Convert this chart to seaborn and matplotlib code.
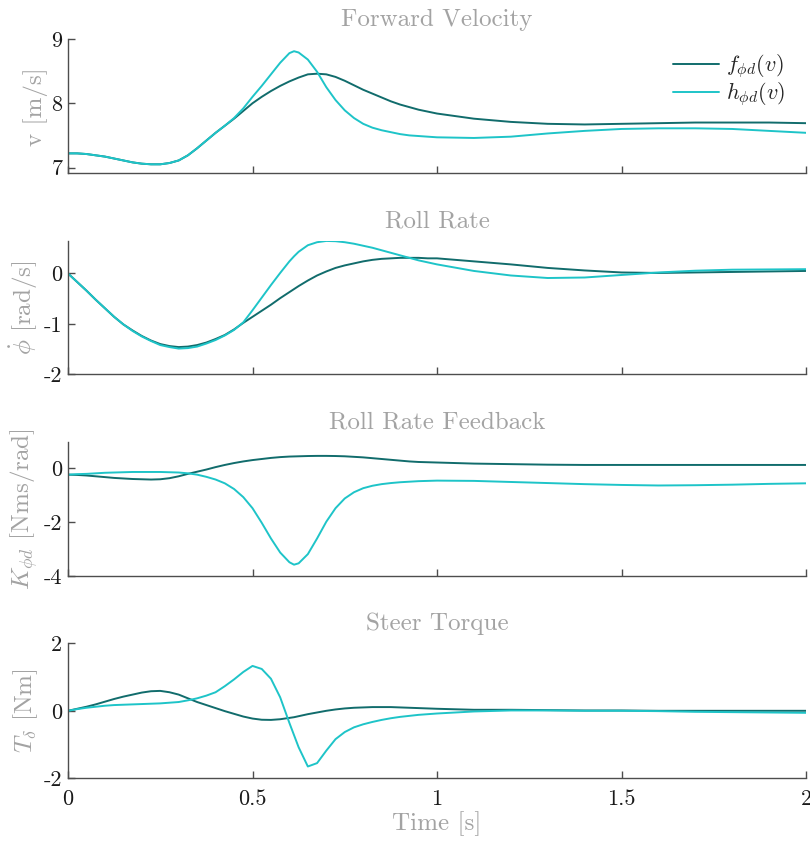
import matplotlib
matplotlib.use('Agg')
import matplotlib.pyplot as plt
import seaborn as sns
from matplotlib.ticker import FuncFormatter, FixedLocator

# ---------------- data ----------------
time_s = [0, 0.025, 0.05, 0.075, 0.1, 0.125, 0.15, 0.175, 0.2,
          0.225, 0.25, 0.275, 0.3, 0.325, 0.35, 0.375, 0.4,
          0.425, 0.45, 0.475, 0.5, 0.525, 0.55, 0.575, 0.6,
          0.6125,
          0.625, 0.65, 0.675, 0.7, 0.725, 0.75, 0.775, 0.8,
          0.825, 0.85, 0.875, 0.9, 0.925, 0.95, 0.975, 1.0,
          1.1, 1.2, 1.3, 1.4, 1.5, 1.6, 1.7, 1.8, 1.9, 2.0]

v_f = [7.22, 7.22, 7.21, 7.19, 7.17, 7.14, 7.11, 7.08, 7.06,
       7.05, 7.05, 7.07, 7.11, 7.19, 7.30, 7.42, 7.54,
       7.65, 7.76, 7.88, 8.00, 8.10, 8.19, 8.27, 8.34,
       8.37,
       8.40, 8.45, 8.46, 8.45, 8.41, 8.35, 8.28, 8.21,
       8.15, 8.09, 8.03, 7.98, 7.94, 7.90, 7.87, 7.84,
       7.76, 7.71, 7.68, 7.67, 7.68, 7.69, 7.70, 7.70, 7.70, 7.69]
v_h = [7.22, 7.22, 7.21, 7.19, 7.17, 7.14, 7.11, 7.08, 7.06,
       7.05, 7.05, 7.07, 7.11, 7.19, 7.30, 7.42, 7.54,
       7.65, 7.77, 7.92, 8.10, 8.27, 8.45, 8.63, 8.78,
       8.81,
       8.79, 8.68, 8.49, 8.25, 8.05, 7.89, 7.77, 7.68,
       7.62, 7.58, 7.55, 7.52, 7.50, 7.49, 7.48, 7.47,
       7.46, 7.48, 7.53, 7.57, 7.60, 7.61, 7.61, 7.60, 7.57, 7.54]

rr_f = [0, -0.17, -0.34, -0.52, -0.69, -0.86, -1.01, -1.13, -1.24,
        -1.33, -1.40, -1.44, -1.46, -1.45, -1.42, -1.37, -1.30,
        -1.22, -1.11, -0.98, -0.86, -0.74, -0.62, -0.49, -0.37,
        -0.31,
        -0.25, -0.14, -0.04, 0.04, 0.11, 0.16, 0.20, 0.24,
        0.27, 0.29, 0.30, 0.31, 0.31, 0.31, 0.30, 0.30,
        0.24, 0.18, 0.11, 0.06, 0.02, 0.01, 0.02, 0.03, 0.04, 0.05]
rr_h = [0, -0.17, -0.34, -0.52, -0.69, -0.86, -1.01, -1.14, -1.25,
        -1.34, -1.42, -1.46, -1.49, -1.48, -1.45, -1.39, -1.32,
        -1.23, -1.12, -0.97, -0.73, -0.48, -0.23, 0.01, 0.24,
        0.34,
        0.43, 0.56, 0.62, 0.645, 0.64, 0.62, 0.59, 0.55,
        0.51, 0.46, 0.41, 0.36, 0.31, 0.26, 0.22, 0.18,
        0.05, -0.04, -0.09, -0.08, -0.03, 0.02, 0.055, 0.075, 0.08, 0.085]

k_f = [-0.24, -0.25, -0.27, -0.30, -0.33, -0.36, -0.38, -0.40, -0.41,
       -0.42, -0.41, -0.37, -0.30, -0.21, -0.13, -0.05, 0.04,
       0.12, 0.19, 0.25, 0.30, 0.34, 0.38, 0.41, 0.43,
       0.435,
       0.44, 0.45, 0.455, 0.455, 0.45, 0.44, 0.42, 0.40,
       0.37, 0.34, 0.31, 0.28, 0.25, 0.23, 0.22, 0.21,
       0.17, 0.15, 0.13, 0.12, 0.12, 0.12, 0.12, 0.12, 0.12, 0.12]
k_h = [-0.24, -0.22, -0.21, -0.19, -0.17, -0.16, -0.15, -0.14, -0.14,
       -0.14, -0.14, -0.15, -0.16, -0.19, -0.24, -0.32, -0.42,
       -0.56, -0.77, -1.07, -1.48, -2.02, -2.60, -3.12, -3.48,
       -3.57,
       -3.52, -3.18, -2.60, -1.98, -1.48, -1.12, -0.89, -0.74,
       -0.65, -0.59, -0.55, -0.52, -0.50, -0.48, -0.47, -0.46,
       -0.47, -0.51, -0.55, -0.59, -0.62, -0.64, -0.63, -0.61, -0.58, -0.56]

t_f = [0, 0.06, 0.12, 0.19, 0.27, 0.35, 0.42, 0.48, 0.54,
       0.58, 0.59, 0.55, 0.48, 0.37, 0.26, 0.17, 0.08,
       -0.01, -0.09, -0.17, -0.23, -0.265, -0.27, -0.25, -0.21,
       -0.19,
       -0.16, -0.10, -0.05, 0.0, 0.04, 0.07, 0.09, 0.10,
       0.11, 0.11, 0.11, 0.10, 0.09, 0.08, 0.07, 0.06,
       0.03, 0.03, 0.02, 0.01, 0.01, 0.0, 0.0, 0.0, 0.0, 0.0]
t_h = [0, 0.05, 0.09, 0.12, 0.15, 0.17, 0.18, 0.19, 0.20,
       0.21, 0.22, 0.24, 0.26, 0.31, 0.37, 0.45, 0.55,
       0.73, 0.93, 1.15, 1.33, 1.24, 0.95, 0.40, -0.36,
       -0.72,
       -1.08, -1.65, -1.55, -1.18, -0.84, -0.63, -0.49, -0.40,
       -0.33, -0.27, -0.22, -0.18, -0.15, -0.12, -0.10, -0.08,
       -0.02, 0.01, 0.01, 0.0, 0.0, -0.01, -0.03, -0.04, -0.05, -0.06]

titles = ['Forward Velocity', 'Roll Rate', 'Roll Rate Feedback', 'Steer Torque']
ylabels = ['v [m/s]', r'$\dot{\phi}$ [rad/s]', r'$K_{\phi d}$ [Nms/rad]', r'$T_{\delta}$ [Nm]']
xlabel = 'Time [s]'
legend_labels = [r'$f_{\phi d}(v)$', r'$h_{\phi d}(v)$']
yticks = [[7, 8, 9], [-2, -1, 0], [-4, -2, 0], [-2, 0, 2]]
ylims = [(6.91, 9.0), (-2.0, 0.65), (-4.0, 0.98), (-2.0, 2.0)]
xticks = [0, 0.5, 1, 1.5, 2]

series = [(v_f, v_h), (rr_f, rr_h), (k_f, k_h), (t_f, t_h)]

# ---------------- style ----------------
sns.set_theme(style='white')
plt.rcParams.update({
    'font.family': 'cmr10',
    'mathtext.fontset': 'cm',
    'axes.unicode_minus': False,
    'axes.formatter.use_mathtext': True,
})

DARK = '#116c6c'
CYAN = '#1ec4c8'
GRAY = '#a3a3a3'
SPINE = '#4d4d4d'

W, H = 810, 841
fig = plt.figure(figsize=(W / 100, H / 100), dpi=100)

# axes boxes in pixels: (top, bottom)
boxes = [(39, 173.3), (240.7, 374.3), (441.7, 576.3), (643.3, 778.3)]
left_px, right_px = 68, 806
label_x = [-0.027, -0.038, -0.038, -0.038]

fmt = FuncFormatter(lambda x, p: f'{x:g}')

for i, ((top, bot), (fs, hs)) in enumerate(zip(boxes, series)):
    ax = fig.add_axes([left_px / W, 1 - bot / H, (right_px - left_px) / W, (bot - top) / H])
    sns.lineplot(x=time_s, y=fs, ax=ax, color=DARK, lw=1.4,
                 label=legend_labels[0] if i == 0 else None, legend=False)
    sns.lineplot(x=time_s, y=hs, ax=ax, color=CYAN, lw=1.4,
                 label=legend_labels[1] if i == 0 else None, legend=False)
    ax.set_xlim(0, 2)
    ax.set_ylim(*ylims[i])
    ax.xaxis.set_major_locator(FixedLocator(xticks))
    ax.yaxis.set_major_locator(FixedLocator(yticks[i]))
    ax.xaxis.set_major_formatter(fmt)
    ax.yaxis.set_major_formatter(fmt)
    for s in ['top', 'right']:
        ax.spines[s].set_visible(False)
    for s in ['left', 'bottom']:
        ax.spines[s].set_color(SPINE)
        ax.spines[s].set_linewidth(1.0)
    ax.tick_params(axis='both', direction='in', length=5, width=1.0, color=SPINE,
                   labelsize=16, labelcolor='#1a1a1a', pad=4)
    ax.tick_params(axis='x', pad=8)
    ax.tick_params(left=True, bottom=True)
    if i < 3:
        ax.tick_params(axis='x', labelbottom=False)
    ax.set_title(titles[i], color=GRAY, fontsize=18, pad=9.5)
    ax.set_ylabel(ylabels[i], color=GRAY, fontsize=18)
    ax.yaxis.set_label_coords(label_x[i], 0.5)
    ax.set_xlabel('')
    if i == 0:
        ax.legend(loc='upper right', bbox_to_anchor=(0.972, 0.90), frameon=False,
                  fontsize=16, handlelength=2.1, handletextpad=0.3, labelspacing=0.0,
                  borderpad=0, borderaxespad=0)
    if i == 3:
        ax.set_xlabel(xlabel, color=GRAY, fontsize=18)
        ax.xaxis.set_label_coords(0.5, -0.245)

fig.savefig('out.png', dpi=100)
